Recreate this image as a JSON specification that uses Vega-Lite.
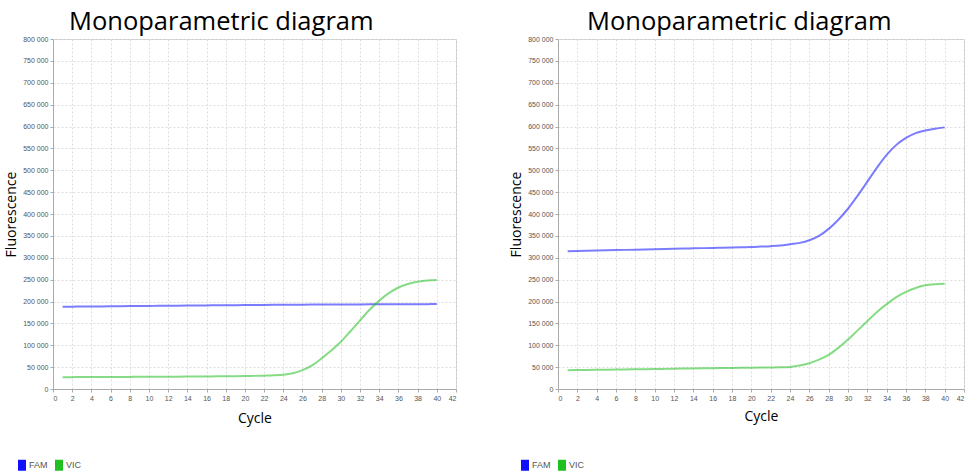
{
  "$schema": "https://vega.github.io/schema/vega-lite/v6.json",
  "padding": {"left": 4, "top": 9, "right": 0, "bottom": 0},
  "background": "white",
  "config": {
    "locale": {"number": {"decimal": ".", "thousands": " ", "grouping": [3], "currency": ["", ""]}},
    "view": {"stroke": "#c8c8c8", "strokeWidth": 1},
    "axis": {
      "labelFont": "Liberation Sans", "labelFontSize": 7, "labelColor": "#555555",
      "titleFont": "Open Sans", "titleFontSize": 14, "titleFontWeight": "normal", "titleColor": "#000000",
      "gridColor": "#dddddd", "gridDash": [2, 2], "gridWidth": 1,
      "domainColor": "#aaaaaa", "tickColor": "#aaaaaa", "tickSize": 3
    },
    "title": {"font": "Open Sans", "fontSize": 25.5, "fontWeight": "normal", "color": "#000000", "frame": "group"},
    "legend": {"labelFont": "Liberation Sans", "labelFontSize": 9, "labelColor": "#555555"}
  },
  "datasets": {
    "left": [
      {"cycle": 1, "dye": "FAM", "fl": 188000}, {"cycle": 2, "dye": "FAM", "fl": 188200}, {"cycle": 3, "dye": "FAM", "fl": 188400}, {"cycle": 4, "dye": "FAM", "fl": 188600}, {"cycle": 5, "dye": "FAM", "fl": 188800}, {"cycle": 6, "dye": "FAM", "fl": 189000}, {"cycle": 7, "dye": "FAM", "fl": 189200}, {"cycle": 8, "dye": "FAM", "fl": 189500}, {"cycle": 9, "dye": "FAM", "fl": 189700}, {"cycle": 10, "dye": "FAM", "fl": 189900},
      {"cycle": 11, "dye": "FAM", "fl": 190100}, {"cycle": 12, "dye": "FAM", "fl": 190300}, {"cycle": 13, "dye": "FAM", "fl": 190500}, {"cycle": 14, "dye": "FAM", "fl": 190700}, {"cycle": 15, "dye": "FAM", "fl": 190900}, {"cycle": 16, "dye": "FAM", "fl": 191100}, {"cycle": 17, "dye": "FAM", "fl": 191300}, {"cycle": 18, "dye": "FAM", "fl": 191500}, {"cycle": 19, "dye": "FAM", "fl": 191700}, {"cycle": 20, "dye": "FAM", "fl": 191900},
      {"cycle": 21, "dye": "FAM", "fl": 192000}, {"cycle": 22, "dye": "FAM", "fl": 192200}, {"cycle": 23, "dye": "FAM", "fl": 192300}, {"cycle": 24, "dye": "FAM", "fl": 192500}, {"cycle": 25, "dye": "FAM", "fl": 192600}, {"cycle": 26, "dye": "FAM", "fl": 192800}, {"cycle": 27, "dye": "FAM", "fl": 192900}, {"cycle": 28, "dye": "FAM", "fl": 193000}, {"cycle": 29, "dye": "FAM", "fl": 193100}, {"cycle": 30, "dye": "FAM", "fl": 193200},
      {"cycle": 31, "dye": "FAM", "fl": 193300}, {"cycle": 32, "dye": "FAM", "fl": 193400}, {"cycle": 33, "dye": "FAM", "fl": 193500}, {"cycle": 34, "dye": "FAM", "fl": 193600}, {"cycle": 35, "dye": "FAM", "fl": 193700}, {"cycle": 36, "dye": "FAM", "fl": 193800}, {"cycle": 37, "dye": "FAM", "fl": 193900}, {"cycle": 38, "dye": "FAM", "fl": 194000}, {"cycle": 39, "dye": "FAM", "fl": 194000}, {"cycle": 40, "dye": "FAM", "fl": 194100},
      {"cycle": 1, "dye": "VIC", "fl": 27000}, {"cycle": 2, "dye": "VIC", "fl": 27100}, {"cycle": 3, "dye": "VIC", "fl": 27200}, {"cycle": 4, "dye": "VIC", "fl": 27300}, {"cycle": 5, "dye": "VIC", "fl": 27400}, {"cycle": 6, "dye": "VIC", "fl": 27500}, {"cycle": 7, "dye": "VIC", "fl": 27600}, {"cycle": 8, "dye": "VIC", "fl": 27700}, {"cycle": 9, "dye": "VIC", "fl": 27800}, {"cycle": 10, "dye": "VIC", "fl": 27900},
      {"cycle": 11, "dye": "VIC", "fl": 28000}, {"cycle": 12, "dye": "VIC", "fl": 28100}, {"cycle": 13, "dye": "VIC", "fl": 28200}, {"cycle": 14, "dye": "VIC", "fl": 28300}, {"cycle": 15, "dye": "VIC", "fl": 28500}, {"cycle": 16, "dye": "VIC", "fl": 28700}, {"cycle": 17, "dye": "VIC", "fl": 28900}, {"cycle": 18, "dye": "VIC", "fl": 29100}, {"cycle": 19, "dye": "VIC", "fl": 29300}, {"cycle": 20, "dye": "VIC", "fl": 29600},
      {"cycle": 21, "dye": "VIC", "fl": 30000}, {"cycle": 22, "dye": "VIC", "fl": 30500}, {"cycle": 23, "dye": "VIC", "fl": 31200}, {"cycle": 24, "dye": "VIC", "fl": 32500}, {"cycle": 25, "dye": "VIC", "fl": 36000}, {"cycle": 26, "dye": "VIC", "fl": 43000}, {"cycle": 27, "dye": "VIC", "fl": 54000}, {"cycle": 28, "dye": "VIC", "fl": 70000}, {"cycle": 29, "dye": "VIC", "fl": 88000}, {"cycle": 30, "dye": "VIC", "fl": 108000},
      {"cycle": 31, "dye": "VIC", "fl": 132000}, {"cycle": 32, "dye": "VIC", "fl": 157000}, {"cycle": 33, "dye": "VIC", "fl": 181000}, {"cycle": 34, "dye": "VIC", "fl": 202000}, {"cycle": 35, "dye": "VIC", "fl": 219000}, {"cycle": 36, "dye": "VIC", "fl": 232000}, {"cycle": 37, "dye": "VIC", "fl": 240000}, {"cycle": 38, "dye": "VIC", "fl": 245000}, {"cycle": 39, "dye": "VIC", "fl": 248000}, {"cycle": 40, "dye": "VIC", "fl": 249000}
    ],
    "right": [
      {"cycle": 1, "dye": "FAM", "fl": 315000}, {"cycle": 2, "dye": "FAM", "fl": 315500}, {"cycle": 3, "dye": "FAM", "fl": 316000}, {"cycle": 4, "dye": "FAM", "fl": 316500}, {"cycle": 5, "dye": "FAM", "fl": 317000}, {"cycle": 6, "dye": "FAM", "fl": 317500}, {"cycle": 7, "dye": "FAM", "fl": 318000}, {"cycle": 8, "dye": "FAM", "fl": 318500}, {"cycle": 9, "dye": "FAM", "fl": 319000}, {"cycle": 10, "dye": "FAM", "fl": 319500},
      {"cycle": 11, "dye": "FAM", "fl": 320000}, {"cycle": 12, "dye": "FAM", "fl": 320500}, {"cycle": 13, "dye": "FAM", "fl": 321000}, {"cycle": 14, "dye": "FAM", "fl": 321500}, {"cycle": 15, "dye": "FAM", "fl": 322000}, {"cycle": 16, "dye": "FAM", "fl": 322500}, {"cycle": 17, "dye": "FAM", "fl": 323000}, {"cycle": 18, "dye": "FAM", "fl": 323500}, {"cycle": 19, "dye": "FAM", "fl": 324000}, {"cycle": 20, "dye": "FAM", "fl": 324500},
      {"cycle": 21, "dye": "FAM", "fl": 325500}, {"cycle": 22, "dye": "FAM", "fl": 326500}, {"cycle": 23, "dye": "FAM", "fl": 328000}, {"cycle": 24, "dye": "FAM", "fl": 331000}, {"cycle": 25, "dye": "FAM", "fl": 334000}, {"cycle": 26, "dye": "FAM", "fl": 340000}, {"cycle": 27, "dye": "FAM", "fl": 350000}, {"cycle": 28, "dye": "FAM", "fl": 366000}, {"cycle": 29, "dye": "FAM", "fl": 387000}, {"cycle": 30, "dye": "FAM", "fl": 412000},
      {"cycle": 31, "dye": "FAM", "fl": 442000}, {"cycle": 32, "dye": "FAM", "fl": 474000}, {"cycle": 33, "dye": "FAM", "fl": 506000}, {"cycle": 34, "dye": "FAM", "fl": 535000}, {"cycle": 35, "dye": "FAM", "fl": 558000}, {"cycle": 36, "dye": "FAM", "fl": 574000}, {"cycle": 37, "dye": "FAM", "fl": 585000}, {"cycle": 38, "dye": "FAM", "fl": 591000}, {"cycle": 39, "dye": "FAM", "fl": 595000}, {"cycle": 40, "dye": "FAM", "fl": 598000},
      {"cycle": 1, "dye": "VIC", "fl": 43000}, {"cycle": 2, "dye": "VIC", "fl": 43300}, {"cycle": 3, "dye": "VIC", "fl": 43600}, {"cycle": 4, "dye": "VIC", "fl": 43900}, {"cycle": 5, "dye": "VIC", "fl": 44200}, {"cycle": 6, "dye": "VIC", "fl": 44500}, {"cycle": 7, "dye": "VIC", "fl": 44800}, {"cycle": 8, "dye": "VIC", "fl": 45100}, {"cycle": 9, "dye": "VIC", "fl": 45400}, {"cycle": 10, "dye": "VIC", "fl": 45700},
      {"cycle": 11, "dye": "VIC", "fl": 46000}, {"cycle": 12, "dye": "VIC", "fl": 46300}, {"cycle": 13, "dye": "VIC", "fl": 46600}, {"cycle": 14, "dye": "VIC", "fl": 46900}, {"cycle": 15, "dye": "VIC", "fl": 47200}, {"cycle": 16, "dye": "VIC", "fl": 47500}, {"cycle": 17, "dye": "VIC", "fl": 47800}, {"cycle": 18, "dye": "VIC", "fl": 48100}, {"cycle": 19, "dye": "VIC", "fl": 48400}, {"cycle": 20, "dye": "VIC", "fl": 48700},
      {"cycle": 21, "dye": "VIC", "fl": 49000}, {"cycle": 22, "dye": "VIC", "fl": 49300}, {"cycle": 23, "dye": "VIC", "fl": 49700}, {"cycle": 24, "dye": "VIC", "fl": 50500}, {"cycle": 25, "dye": "VIC", "fl": 53500}, {"cycle": 26, "dye": "VIC", "fl": 59000}, {"cycle": 27, "dye": "VIC", "fl": 67000}, {"cycle": 28, "dye": "VIC", "fl": 78000}, {"cycle": 29, "dye": "VIC", "fl": 94000}, {"cycle": 30, "dye": "VIC", "fl": 113000},
      {"cycle": 31, "dye": "VIC", "fl": 134000}, {"cycle": 32, "dye": "VIC", "fl": 155000}, {"cycle": 33, "dye": "VIC", "fl": 176000}, {"cycle": 34, "dye": "VIC", "fl": 194000}, {"cycle": 35, "dye": "VIC", "fl": 210000}, {"cycle": 36, "dye": "VIC", "fl": 222000}, {"cycle": 37, "dye": "VIC", "fl": 231000}, {"cycle": 38, "dye": "VIC", "fl": 237000}, {"cycle": 39, "dye": "VIC", "fl": 239500}, {"cycle": 40, "dye": "VIC", "fl": 240500}
    ]
  },
  "spacing": 52,
  "resolve": {"legend": {"color": "independent"}},
  "hconcat": [
    {
      "width": 403,
      "height": 350,
      "title": {"text": "Monoparametric diagram", "anchor": "start", "dx": 16, "offset": 0},
      "data": {"name": "left"},
      "mark": {"type": "line", "interpolate": "monotone", "strokeWidth": 2, "opacity": 0.55},
      "encoding": {
        "x": {"field": "cycle", "type": "quantitative", "title": "Cycle", "scale": {"domain": [0, 42], "nice": false},
              "axis": {"values": [0,2,4,6,8,10,12,14,16,18,20,22,24,26,28,30,32,34,36,38,40,42], "titlePadding": 10}},
        "y": {"field": "fl", "type": "quantitative", "title": "Fluorescence", "scale": {"domain": [0, 800000], "nice": false},
              "axis": {"values": [0,50000,100000,150000,200000,250000,300000,350000,400000,450000,500000,550000,600000,650000,700000,750000,800000], "format": ",d", "titlePadding": 4}},
        "color": {"field": "dye", "type": "nominal", "title": null,
                  "scale": {"domain": ["FAM", "VIC"], "range": ["#1010ff", "#20c020"]},
                  "legend": {"orient": "none", "legendX": -36, "legendY": 421, "direction": "horizontal",
                             "symbolType": "M-0.8,-1.1H0.8V1.1H-0.8Z", "symbolSize": 100, "symbolOpacity": 1, "symbolStrokeWidth": 0, "columnPadding": 6, "labelOffset": 2,
                             "encode": {"symbols": {"update": {"fill": {"scale": "color", "field": "value"}, "opacity": {"value": 1}}}}}}
      }
    },
    {
      "width": 406,
      "height": 350,
      "title": {"text": "Monoparametric diagram", "anchor": "start", "dx": 29, "offset": 0},
      "data": {"name": "right"},
      "mark": {"type": "line", "interpolate": "monotone", "strokeWidth": 2, "opacity": 0.55},
      "encoding": {
        "x": {"field": "cycle", "type": "quantitative", "title": "Cycle", "scale": {"domain": [0, 42], "nice": false},
              "axis": {"values": [0,2,4,6,8,10,12,14,16,18,20,22,24,26,28,30,32,34,36,38,40,42], "titlePadding": 8}},
        "y": {"field": "fl", "type": "quantitative", "title": "Fluorescence", "scale": {"domain": [0, 800000], "nice": false},
              "axis": {"values": [0,50000,100000,150000,200000,250000,300000,350000,400000,450000,500000,550000,600000,650000,700000,750000,800000], "format": ",d", "titlePadding": 4}},
        "color": {"field": "dye", "type": "nominal", "title": null,
                  "scale": {"domain": ["FAM", "VIC"], "range": ["#1010ff", "#20c020"]},
                  "legend": {"orient": "none", "legendX": -38, "legendY": 421, "direction": "horizontal",
                             "symbolType": "M-0.8,-1.1H0.8V1.1H-0.8Z", "symbolSize": 100, "symbolOpacity": 1, "symbolStrokeWidth": 0, "columnPadding": 6, "labelOffset": 2,
                             "encode": {"symbols": {"update": {"fill": {"scale": "color", "field": "value"}, "opacity": {"value": 1}}}}}}
      }
    }
  ]
}
